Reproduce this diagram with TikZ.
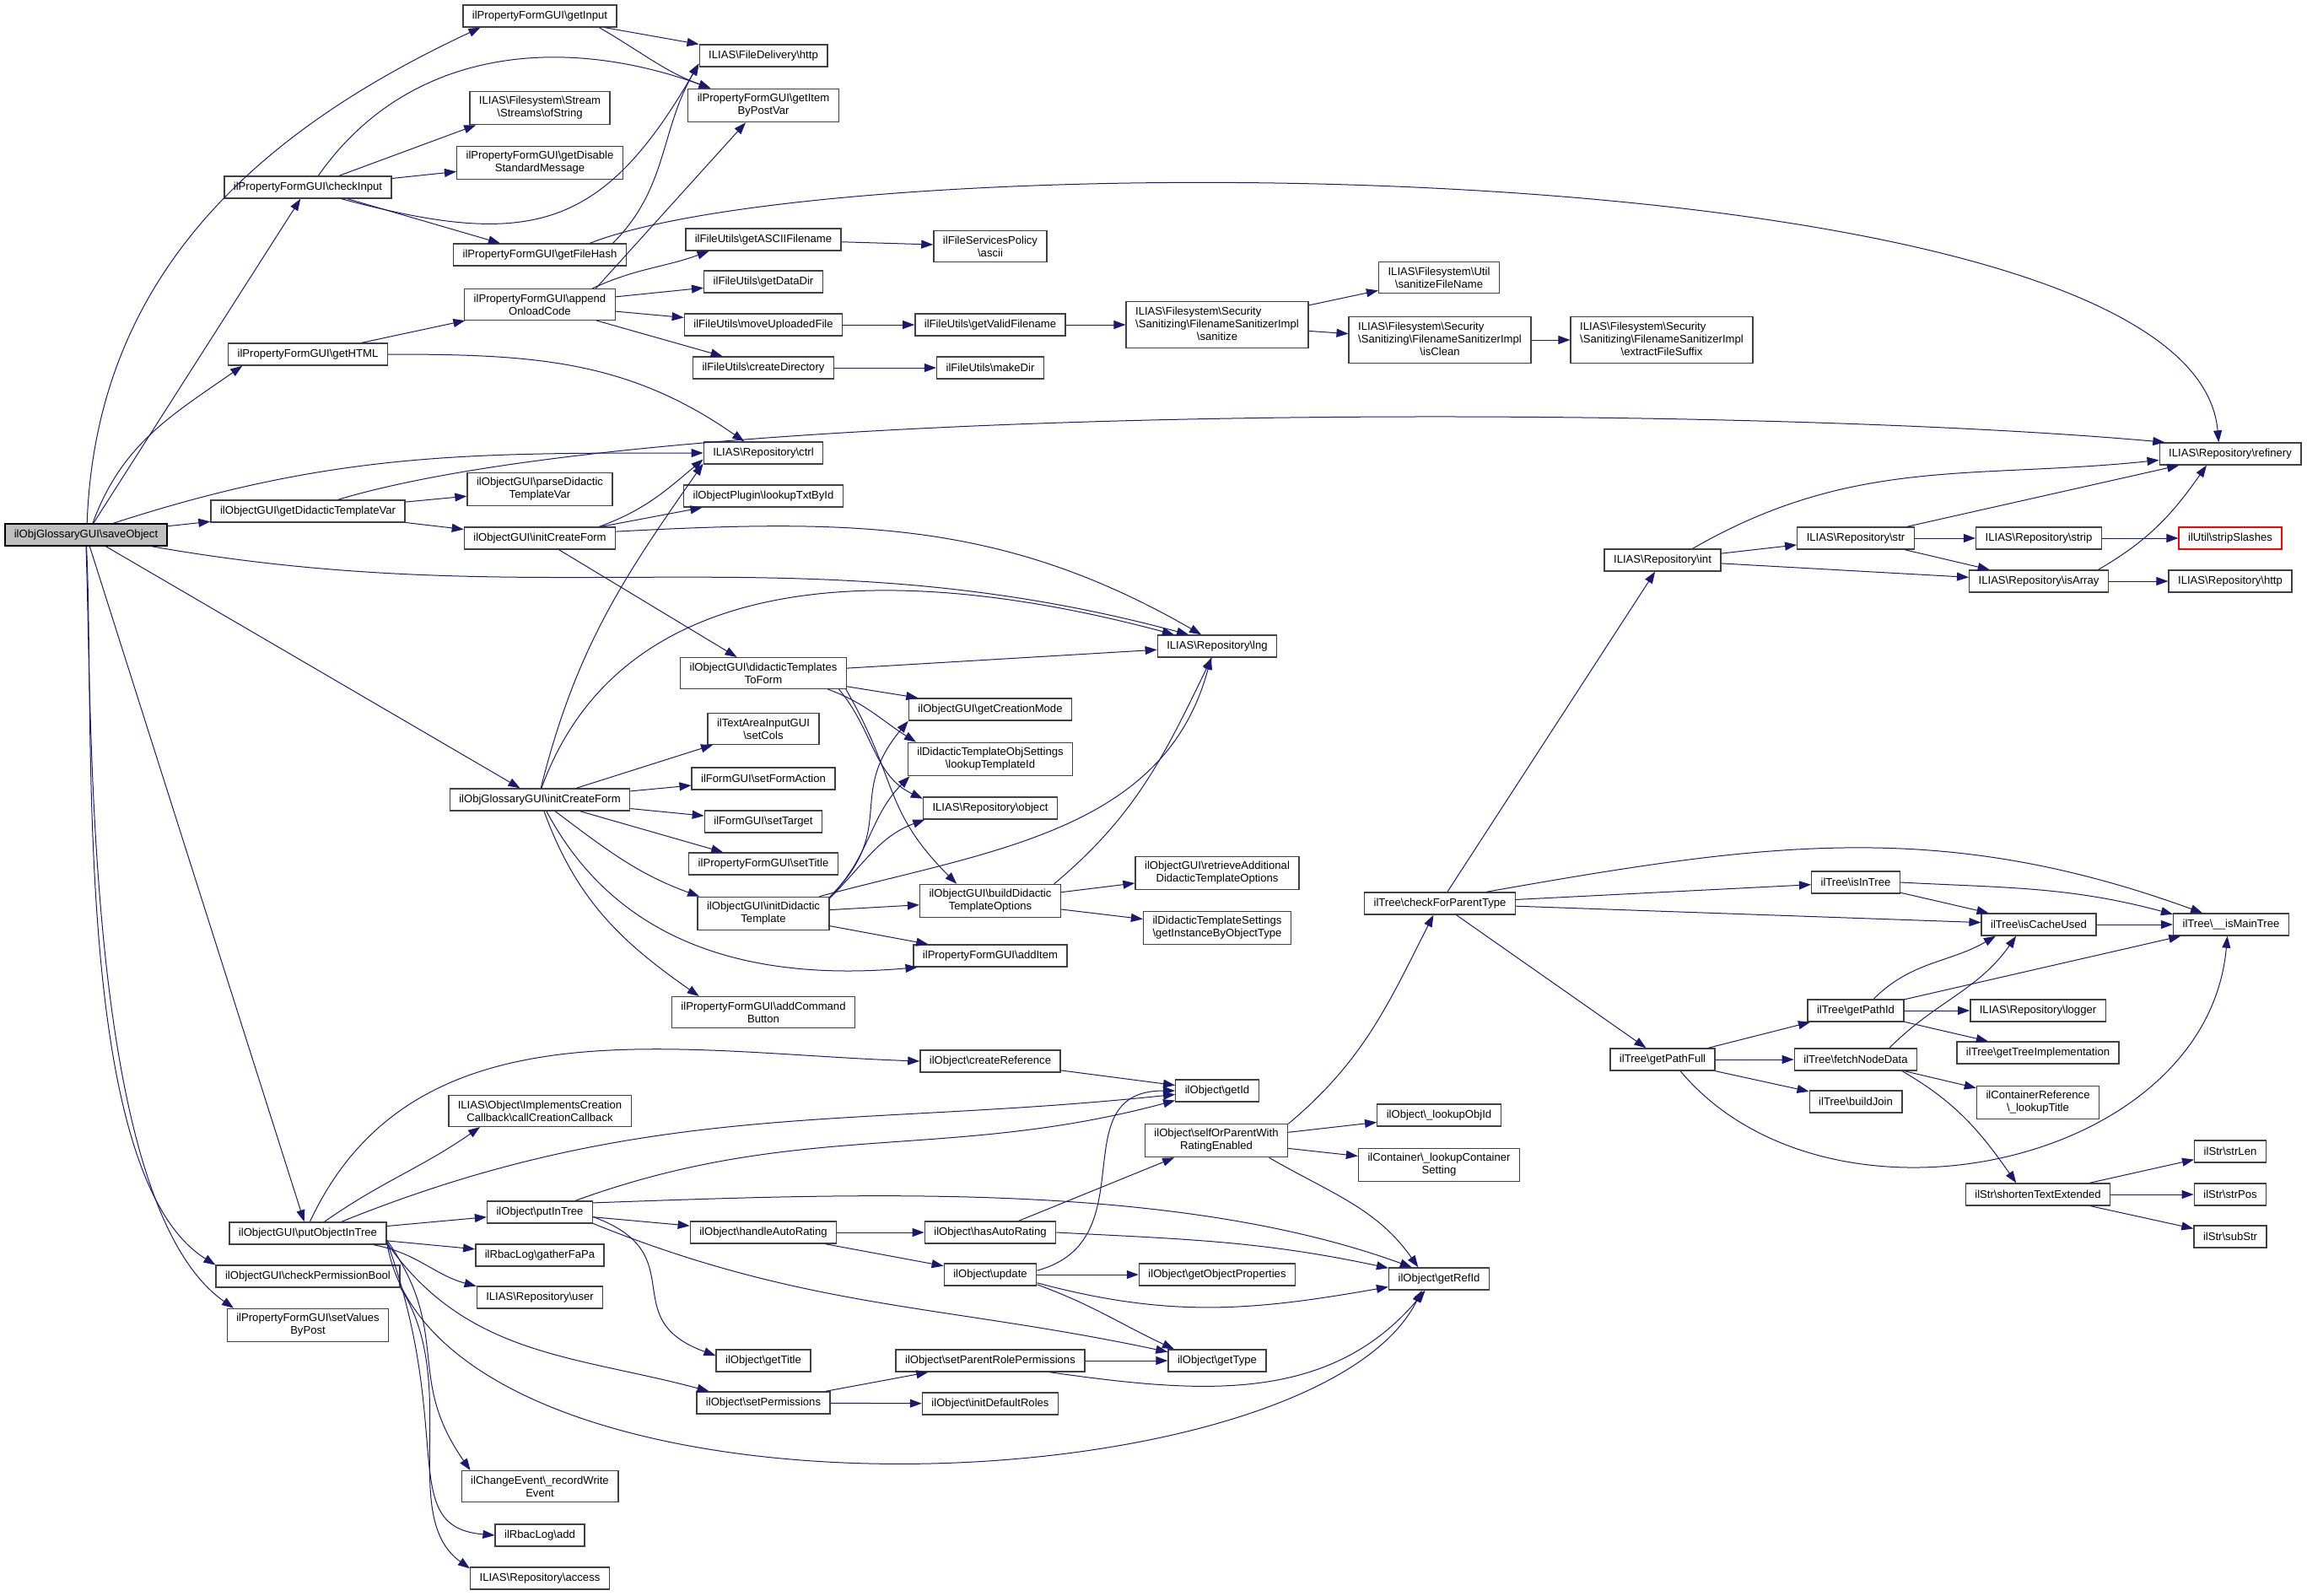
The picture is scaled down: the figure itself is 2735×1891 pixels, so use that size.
\documentclass[tikz,border=0pt]{standalone}
\usepackage{fontspec}
\setmainfont{Liberation Sans}
\usepackage{tikz}
\usetikzlibrary{arrows.meta}
\definecolor{grey25}{RGB}{64,64,64}
\definecolor{grey75}{RGB}{191,191,191}
\definecolor{midnight}{RGB}{25,25,112}
\newcommand{\bsl}{\textbackslash}
\newcommand{\threeline}[3]{\begin{tabular}{@{}l@{}}#1\\#2\\\multicolumn{1}{@{}c@{}}{#3}\end{tabular}}

\begin{document}
\begin{tikzpicture}[x=.5pt,y=-.5pt,>={Triangle[length=7pt,width=5pt]}]
\tikzstyle{fn}=[rectangle,draw=grey25,fill=white,line width=.7pt,inner xsep=5.5pt,inner ysep=3pt,minimum height=13pt,align=center,font=\fontsize{6.55pt}{7.5pt}\selectfont]
\tikzstyle{root}=[fn,draw=black,fill=grey75]
\tikzstyle{cut}=[fn,draw=red]
\tikzstyle{call}=[->,draw=midnight,line width=.5pt]
\useasboundingbox (0,0) rectangle (2735,1891);
  \node[root](save) at (102,634){ilObjGlossaryGUI\bsl saveObject};
  \node[fn](check-input) at (365,222){ilPropertyFormGUI\bsl checkInput};
  \node[fn](get-html) at (365,420){ilPropertyFormGUI\bsl getHTML};
  \node[fn](tpl-var) at (365,606){ilObjectGUI\bsl getDidacticTemplateVar};
  \node[fn](put-obj) at (365,1462){ilObjectGUI\bsl putObjectInTree};
  \node[fn](perm-bool) at (365,1513){ilObjectGUI\bsl checkPermissionBool};
  \node[fn](set-values) at (365,1571){ilPropertyFormGUI\bsl setValues\\ByPost};
  \node[fn](get-input) at (640,19){ilPropertyFormGUI\bsl getInput};
  \node[fn](of-string) at (640,128){ILIAS\bsl Filesystem\bsl Stream\\\bsl Streams\bsl ofString};
  \node[fn](disable-msg) at (640,193){ilPropertyFormGUI\bsl getDisable\\StandardMessage};
  \node[fn](file-hash) at (640,302){ilPropertyFormGUI\bsl getFileHash};
  \node[fn](append-code) at (640,361){ilPropertyFormGUI\bsl append\\OnloadCode};
  \node[fn](parse-var) at (640,580){ilObjectGUI\bsl parseDidactic\\TemplateVar};
  \node[fn](init-form) at (640,638){ilObjectGUI\bsl initCreateForm};
  \node[fn](gl-form) at (640,948){ilObjGlossaryGUI\bsl initCreateForm};
  \node[fn](callback) at (640,1317){ILIAS\bsl Object\bsl ImplementsCreation\\Callback\bsl callCreationCallback};
  \node[fn](put-tree) at (640,1437){ilObject\bsl putInTree};
  \node[fn](gather) at (640,1488){ilRbacLog\bsl gatherFaPa};
  \node[fn](user) at (640,1538){ILIAS\bsl Repository\bsl user};
  \node[fn](record) at (640,1762){ilChangeEvent\bsl\_recordWrite\\Event};
  \node[fn](rbac-add) at (640,1820){ilRbacLog\bsl add};
  \node[fn](access) at (640,1871){ILIAS\bsl Repository\bsl access};
  \node[fn](fd-http) at (905,66){ILIAS\bsl FileDelivery\bsl http};
  \node[fn](item-post) at (905,125){ilPropertyFormGUI\bsl getItem\\ByPostVar};
  \node[fn](ascii-fn) at (905,284){ilFileUtils\bsl getASCIIFilename};
  \node[fn](data-dir) at (905,334){ilFileUtils\bsl getDataDir};
  \node[fn](move-file) at (905,385){ilFileUtils\bsl moveUploadedFile};
  \node[fn](create-dir) at (905,436){ilFileUtils\bsl createDirectory};
  \node[fn](ctrl) at (905,537){ILIAS\bsl Repository\bsl ctrl};
  \node[fn](txt-id) at (905,588){ilObjectPlugin\bsl lookupTxtById};
  \node[fn](tpl-form) at (905,798){ilObjectGUI\bsl didacticTemplates\\ToForm};
  \node[fn](set-cols) at (905,864){ilTextAreaInputGUI\\\bsl setCols};
  \node[fn](form-action) at (905,923){ilFormGUI\bsl setFormAction};
  \node[fn](set-target) at (905,974){ilFormGUI\bsl setTarget};
  \node[fn](set-title) at (905,1024){ilPropertyFormGUI\bsl setTitle};
  \node[fn](init-tpl) at (905,1083){ilObjectGUI\bsl initDidactic\\Template};
  \node[fn](cmd-button) at (905,1200){ilPropertyFormGUI\bsl addCommand\\Button};
  \node[fn](auto-rating) at (905,1461){ilObject\bsl handleAutoRating};
  \node[fn](get-title) at (905,1613){ilObject\bsl getTitle};
  \node[fn](set-perms) at (905,1663){ilObject\bsl setPermissions};
  \node[fn](fs-ascii) at (1174,292){ilFileServicesPolicy\\\bsl ascii};
  \node[fn](valid-fn) at (1174,385){ilFileUtils\bsl getValidFilename};
  \node[fn](make-dir) at (1174,436){ilFileUtils\bsl makeDir};
  \node[fn](creation-mode) at (1174,841){ilObjectGUI\bsl getCreationMode};
  \node[fn](tpl-id) at (1174,900){ilDidacticTemplateObjSettings\\\bsl lookupTemplateId};
  \node[fn](object) at (1174,958){ILIAS\bsl Repository\bsl object};
  \node[fn](build-opts) at (1174,1068){ilObjectGUI\bsl buildDidactic\\TemplateOptions};
  \node[fn](add-item) at (1174,1133){ilPropertyFormGUI\bsl addItem};
  \node[fn](create-ref) at (1174,1258){ilObject\bsl createReference};
  \node[fn](has-rating) at (1174,1461){ilObject\bsl hasAutoRating};
  \node[fn](update) at (1174,1511){ilObject\bsl update};
  \node[fn](parent-perms) at (1174,1613){ilObject\bsl setParentRolePermissions};
  \node[fn](def-roles) at (1174,1664){ilObject\bsl initDefaultRoles};
  \node[fn,inner ysep=2.5pt](sanitize) at (1443,385){\threeline{ILIAS\bsl Filesystem\bsl Security}{\bsl Sanitizing\bsl FilenameSanitizerImpl}{\bsl sanitize}};
  \node[fn](lng) at (1443,766){ILIAS\bsl Repository\bsl lng};
  \node[fn](retr-opts) at (1443,1035){ilObjectGUI\bsl retrieveAdditional\\DidacticTemplateOptions};
  \node[fn](inst-type) at (1443,1100){ilDidacticTemplateSettings\\\bsl getInstanceByObjectType};
  \node[fn](get-id) at (1443,1293){ilObject\bsl getId};
  \node[fn](self-rating) at (1442,1352){ilObject\bsl selfOrParentWith\\RatingEnabled};
  \node[fn](obj-props) at (1443,1511){ilObject\bsl getObjectProperties};
  \node[fn](get-type) at (1443,1613){ilObject\bsl getType};
  \node[fn](san-name) at (1706,329){ILIAS\bsl Filesystem\bsl Util\\\bsl sanitizeFileName};
  \node[fn,inner ysep=2.5pt](is-clean) at (1707,403){\threeline{ILIAS\bsl Filesystem\bsl Security}{\bsl Sanitizing\bsl FilenameSanitizerImpl}{\bsl isClean}};
  \node[fn](parent-type) at (1707,1071){ilTree\bsl checkForParentType};
  \node[fn](lookup-obj) at (1706,1322){ilObject\bsl\_lookupObjId};
  \node[fn](lookup-cont) at (1706,1381){ilContainer\bsl\_lookupContainer\\Setting};
  \node[fn](ref-id) at (1706,1516){ilObject\bsl getRefId};
  \node[fn,inner ysep=2.5pt](ext-suffix) at (1970,403){\threeline{ILIAS\bsl Filesystem\bsl Security}{\bsl Sanitizing\bsl FilenameSanitizerImpl}{\bsl extractFileSuffix}};
  \node[fn](int) at (1971,664){ILIAS\bsl Repository\bsl int};
  \node[fn](path-full) at (1971,1256){ilTree\bsl getPathFull};
  \node[fn](str) at (2200,638){ILIAS\bsl Repository\bsl str};
  \node[fn](in-tree) at (2200,1046){ilTree\bsl isInTree};
  \node[fn](path-id) at (2200,1198){ilTree\bsl getPathId};
  \node[fn](fetch) at (2200,1256){ilTree\bsl fetchNodeData};
  \node[fn](build-join) at (2200,1306){ilTree\bsl buildJoin};
  \node[fn](strip) at (2417,638){ILIAS\bsl Repository\bsl strip};
  \node[fn](is-array) at (2417,689){ILIAS\bsl Repository\bsl isArray};
  \node[fn](cache-used) at (2417,1096){ilTree\bsl isCacheUsed};
  \node[fn](logger) at (2416,1198){ILIAS\bsl Repository\bsl logger};
  \node[fn](tree-impl) at (2416,1248){ilTree\bsl getTreeImplementation};
  \node[fn](lookup-title) at (2416,1307){ilContainerReference\\\bsl\_lookupTitle};
  \node[fn](shorten) at (2416,1416){ilStr\bsl shortenTextExtended};
  \node[fn](refinery) at (2644,538){ILIAS\bsl Repository\bsl refinery};
  \node[cut](strip-slashes) at (2644,638){ilUtil\bsl stripSlashes};
  \node[fn](repo-http) at (2644,689){ILIAS\bsl Repository\bsl http};
  \node[fn](main-tree) at (2645,1096){ilTree\bsl\_\_isMainTree};
  \node[fn](str-len) at (2644,1365){ilStr\bsl strLen};
  \node[fn](str-pos) at (2644,1416){ilStr\bsl strPos};
  \node[fn](sub-str) at (2644,1466){ilStr\bsl subStr};
  \draw[call](save.85) to[out=88,in=205] (get-input.191);
  \draw[call](save)--(check-input);
  \draw[call](save.60) to[out=70,in=215] (get-html.190);
  \draw[call](save.23) to[out=18,in=180] (ctrl.west);
  \draw[call](save)--(tpl-var);
  \draw[call](save.-10) to[out=-10,in=165] (lng.158);
  \draw[call](save)--(gl-form);
  \draw[call](save)--(put-obj);
  \draw[call](save.-88) to[out=-87,in=148,looseness=.6] (perm-bool.173);
  \draw[call](save.-90) to[out=-88,in=145,looseness=.6] (set-values.167);
  \draw[call](get-input)--(fd-http);
  \draw[call](get-input.-11) to[out=-30,in=160] (item-post.162);
  \draw[call](check-input.-19) to[out=-15,in=240,looseness=1.3] (fd-http.187);
  \draw[call](check-input.48) to[out=55,in=160] (item-post.162);
  \draw[call](check-input)--(of-string.195);
  \draw[call](check-input)--(disable-msg);
  \draw[call](check-input)--(file-hash);
  \draw[call](file-hash.9) to[out=45,in=240] (fd-http.187);
  \draw[call](file-hash.13) .. controls +(303,-119) and +(-31,-355) .. (refinery.135);
  \draw[call](get-html)--(append-code);
  \draw[call](get-html.east) to[out=0,in=145] (ctrl.149);
  \draw[call](append-code.16)--(item-post.224);
  \draw[call](append-code.17) to[out=25,in=200] (ascii-fn.192);
  \draw[call](append-code)--(data-dir);
  \draw[call](append-code)--(move-file);
  \draw[call](append-code)--(create-dir);
  \draw[call](ascii-fn)--(fs-ascii);
  \draw[call](move-file)--(valid-fn);
  \draw[call](create-dir)--(make-dir);
  \draw[call](valid-fn)--(sanitize);
  \draw[call](sanitize)--(san-name);
  \draw[call](sanitize)--(is-clean);
  \draw[call](is-clean)--(ext-suffix);
  \draw[call](tpl-var.21) .. controls +(400,-120) and +(-500,-45) .. (refinery.170);
  \draw[call](tpl-var)--(parse-var);
  \draw[call](tpl-var)--(init-form);
  \draw[call](init-form.11) to[out=20,in=220] (ctrl.186);
  \draw[call](init-form)--(txt-id);
  \draw[call](init-form.5) to[out=3,in=150] (lng.144);
  \draw[call](init-form)--(tpl-form);
  \draw[call](gl-form.85) to[out=76,in=235] (ctrl.190);
  \draw[call](gl-form.82) to[out=70,in=165] (lng.165);
  \draw[call](gl-form)--(set-cols);
  \draw[call](gl-form)--(form-action);
  \draw[call](gl-form)--(set-target);
  \draw[call](gl-form)--(set-title);
  \draw[call](gl-form.-37) to[out=-37,in=160] (init-tpl.165);
  \draw[call](gl-form.-60) to[out=-62,in=185] (add-item.189);
  \draw[call](gl-form.-70) to[out=-70,in=145] (cmd-button.166);
  \draw[call](tpl-form)--(lng);
  \draw[call](tpl-form)--(creation-mode);
  \draw[call](tpl-form.-14) to[out=-20,in=148] (tpl-id.167);
  \draw[call](tpl-form.-12) to[out=-50,in=155] (object.172);
  \draw[call](tpl-form.-11) to[out=-60,in=135,looseness=1.2] (build-opts.153);
  \draw[call](init-tpl.14) to[out=45,in=230,looseness=1.3] (creation-mode.188);
  \draw[call](init-tpl.14) to[out=45,in=225] (tpl-id.192);
  \draw[call](init-tpl.13) to[out=45,in=200] (object.190);
  \draw[call](init-tpl.17) to[out=15,in=255] (lng.242);
  \draw[call](init-tpl)--(build-opts);
  \draw[call](init-tpl)--(add-item);
  \draw[call](build-opts.15) to[out=40,in=244] (lng.245);
  \draw[call](build-opts)--(retr-opts);
  \draw[call](build-opts)--(inst-type);
  \draw[call](put-obj.80) to[out=65,in=178] (create-ref.west);
  \draw[call](put-obj.35) to[out=35,in=215] (callback.195);
  \draw[call](put-obj.19) to[out=22,in=186] (get-id.185);
  \draw[call](put-obj)--(put-tree);
  \draw[call](put-obj)--(gather);
  \draw[call](put-obj.-10) to[out=-10,in=165] (user.170);
  \draw[call](put-obj.-7) to[out=-55,in=165] (set-perms.168);
  \draw[call](put-obj.-7) .. controls +(62,357) and +(-130,262) .. (ref-id.214);
  \draw[call](put-obj.-5) to[out=-55,in=125,looseness=1.2] (record.167);
  \draw[call](put-obj.-6) .. controls +(82,227) and +(-117,-10) .. (rbac-add.west);
  \draw[call](perm-bool.-7) .. controls +(73,113) and +(-86,-62) .. (access.172);
  \draw[call](put-tree.18) to[out=20,in=195] (get-id.193);
  \draw[call](put-tree.10) to[out=2,in=160,looseness=.8] (ref-id.157);
  \draw[call](put-tree)--(auto-rating);
  \draw[call](put-tree.-5) to[out=-20,in=160,looseness=1.5] (get-title.174);
  \draw[call](put-tree.-12) to[out=-22,in=168] (get-type.170);
  \draw[call](auto-rating)--(has-rating);
  \draw[call](auto-rating)--(update);
  \draw[call](has-rating)--(self-rating);
  \draw[call](has-rating.east) to[out=-3,in=168] (ref-id.168);
  \draw[call](update.5) to[out=15,in=180,looseness=1.3] (get-id.west);
  \draw[call](update)--(obj-props);
  \draw[call](update.-10) to[out=-15,in=190] (ref-id.189);
  \draw[call](update.-12) to[out=-20,in=155] (get-type.165);
  \draw[call](self-rating.13) to[out=40,in=243] (parent-type.241);
  \draw[call](self-rating)--(lookup-obj);
  \draw[call](self-rating)--(lookup-cont);
  \draw[call](self-rating.-18) to[out=-30,in=125] (ref-id.151);
  \draw[call](create-ref)--(get-id);
  \draw[call](set-perms)--(parent-perms);
  \draw[call](set-perms)--(def-roles);
  \draw[call](parent-perms)--(get-type);
  \draw[call](parent-perms.-11) to[out=-8,in=230] (ref-id.220);
  \draw[call](parent-type)--(int);
  \draw[call](parent-type)--(in-tree);
  \draw[call](parent-type.14) to[out=10,in=160] (main-tree.158);
  \draw[call](parent-type)--(cache-used);
  \draw[call](parent-type)--(path-full);
  \draw[call](int.21) to[out=30,in=186] (refinery.185);
  \draw[call](int)--(str);
  \draw[call](int)--(is-array);
  \draw[call](str)--(refinery);
  \draw[call](str)--(strip);
  \draw[call](str)--(is-array);
  \draw[call](strip)--(strip-slashes);
  \draw[call](is-array.11) to[out=30,in=235] (refinery.206);
  \draw[call](is-array)--(repo-http);
  \draw[call](in-tree)--(cache-used);
  \draw[call](in-tree.east) to[out=-3,in=165] (main-tree.170);
  \draw[call](cache-used)--(main-tree);
  \draw[call](path-id.33) to[out=45,in=210] (cache-used.195);
  \draw[call](path-id)--(main-tree);
  \draw[call](path-id)--(logger);
  \draw[call](path-id)--(tree-impl);
  \draw[call](path-full)--(path-id);
  \draw[call](path-full)--(fetch);
  \draw[call](path-full)--(build-join);
  \draw[call](path-full.-33) to[out=-50,in=265,looseness=1.05] (main-tree.252);
  \draw[call](fetch.19) to[out=45,in=235] (cache-used.207);
  \draw[call](fetch)--(lookup-title);
  \draw[call](fetch.-14) to[out=-30,in=125] (shorten.152);
  \draw[call](shorten)--(str-len);
  \draw[call](shorten)--(str-pos);
  \draw[call](shorten)--(sub-str);
\end{tikzpicture}
\end{document}
